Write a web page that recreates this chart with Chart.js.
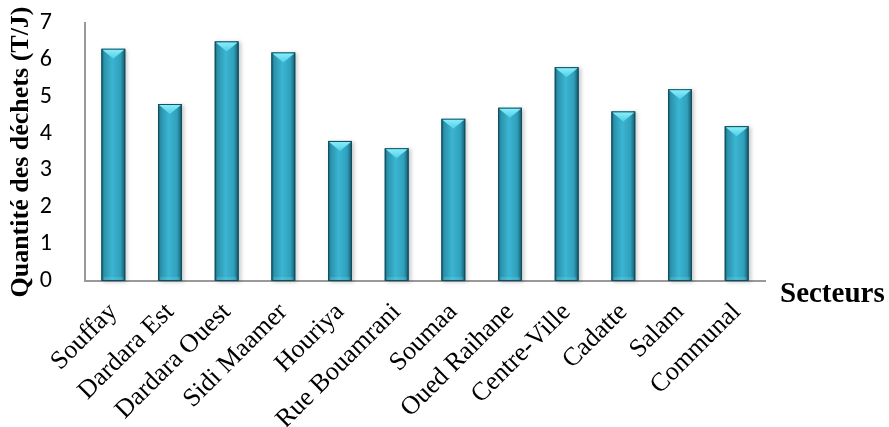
<!DOCTYPE html>
<html>
<head>
<meta charset="utf-8">
<script src="https://cdn.jsdelivr.net/npm/chart.js@4.4.0/dist/chart.umd.min.js"></script>
<style>
  html, body { margin: 0; padding: 0; background: #fff; }
  #wrap { width: 889px; height: 427px; }
</style>
</head>
<body>
<div id="wrap"><canvas id="chart"></canvas></div>
<script>
const secteurs = ['Souffay', 'Dardara Est', 'Dardara Ouest', 'Sidi Maamer', 'Houriya',
  'Rue Bouamrani', 'Soumaa', 'Oued Raihane', 'Centre-Ville', 'Cadatte', 'Salam', 'Communal'];
const quantites = [6.3, 4.8, 6.5, 6.2, 3.8, 3.6, 4.4, 4.7, 5.8, 4.6, 5.2, 4.2];
const yTicks = [0, 1, 2, 3, 4, 5, 6, 7];

const serif = "'Liberation Serif', 'Times New Roman', serif";
const sans = "'Carlito', 'Noto Sans', 'Liberation Sans', sans-serif";

// repaint each bar as a shaded column with a lit bevel on top
const cylinder = {
  id: 'cylinder',
  afterDatasetsDraw(chart) {
    const ctx = chart.ctx;
    chart.getDatasetMeta(0).data.forEach((bar) => {
      const w = bar.width;
      const l = bar.x - w / 2;
      const r = bar.x + w / 2;
      const top = bar.y;
      const bottom = bar.base;
      ctx.save();
      ctx.shadowColor = 'rgba(0,0,0,0.22)';
      ctx.shadowBlur = 4;
      ctx.shadowOffsetX = 2;
      ctx.shadowOffsetY = 1;
      const g = ctx.createLinearGradient(l, 0, r, 0);
      g.addColorStop(0, '#1b6477');
      g.addColorStop(0.12, '#2b93ad');
      g.addColorStop(0.45, '#3bb5d2');
      g.addColorStop(0.8, '#2fa0bc');
      g.addColorStop(1, '#17586a');
      ctx.fillStyle = g;
      ctx.fillRect(l, top, w, bottom - top);
      ctx.restore();

      ctx.save();
      ctx.strokeStyle = '#124c5c';
      ctx.lineWidth = 1;
      ctx.strokeRect(l + 0.5, top + 0.5, w - 1, bottom - top - 1);
      // top bevel
      const bev = ctx.createLinearGradient(0, top, 0, top + 10);
      bev.addColorStop(0, '#8ff0fb');
      bev.addColorStop(1, '#4fcfe6');
      ctx.fillStyle = bev;
      ctx.beginPath();
      ctx.moveTo(l + 1, top + 1);
      ctx.lineTo(r - 1, top + 1);
      ctx.lineTo(bar.x, top + 10);
      ctx.closePath();
      ctx.fill();
      // faint lower bevel
      ctx.fillStyle = 'rgba(120,220,235,0.25)';
      ctx.fillRect(l + 2, bottom - 4, w - 4, 3);
      ctx.restore();
    });
  }
};

// axis caption placed to the right of the category axis
const secteursLabel = {
  id: 'secteursLabel',
  afterDraw(chart) {
    const ctx = chart.ctx;
    const a = chart.chartArea;
    ctx.save();
    ctx.font = 'bold 29px ' + serif;
    ctx.fillStyle = '#000';
    ctx.textAlign = 'left';
    ctx.textBaseline = 'alphabetic';
    ctx.fillText('Secteurs', a.right + 15, a.bottom + 21);
    ctx.restore();
  }
};

new Chart(document.getElementById('chart'), {
  type: 'bar',
  data: {
    labels: secteurs,
    datasets: [{
      data: quantites,
      backgroundColor: '#35aecb',
      barPercentage: 0.42,
      categoryPercentage: 1.0
    }]
  },
  options: {
    responsive: true,
    maintainAspectRatio: false,
    animation: false,
    layout: { padding: { top: 23, right: 124, left: 6, bottom: 0 } },
    plugins: {
      legend: { display: false },
      tooltip: { enabled: false }
    },
    scales: {
      x: {
        grid: { display: false },
        border: { color: '#999', width: 2 },
        ticks: {
          color: '#000',
          font: { family: serif, size: 26 },
          minRotation: 45,
          maxRotation: 45,
          autoSkip: false,
          padding: 8
        },
        afterFit(scale) {
          // let the slanted labels hang under the value axis
          scale.paddingLeft = 0;
          scale.paddingRight = 0;
          scale.height = 146;
        }
      },
      y: {
        min: 0,
        max: 7,
        afterBuildTicks(scale) { scale.ticks = yTicks.map((v) => ({ value: v })); },
        grid: { display: false },
        border: { color: '#999', width: 2 },
        ticks: {
          color: '#000',
          font: { family: sans, size: 24 },
          padding: 25
        },
        title: {
          display: true,
          text: 'Quantité des déchets (T/J)',
          color: '#000',
          font: { family: serif, size: 26, weight: 'bold' },
          padding: { top: 0, bottom: 0 }
        },
        afterFit(scale) {
          scale.paddingTop = 0;
          scale.paddingBottom = 0;
          scale.width = 79;
        }
      }
    }
  },
  plugins: [cylinder, secteursLabel]
});
</script>
</body>
</html>
